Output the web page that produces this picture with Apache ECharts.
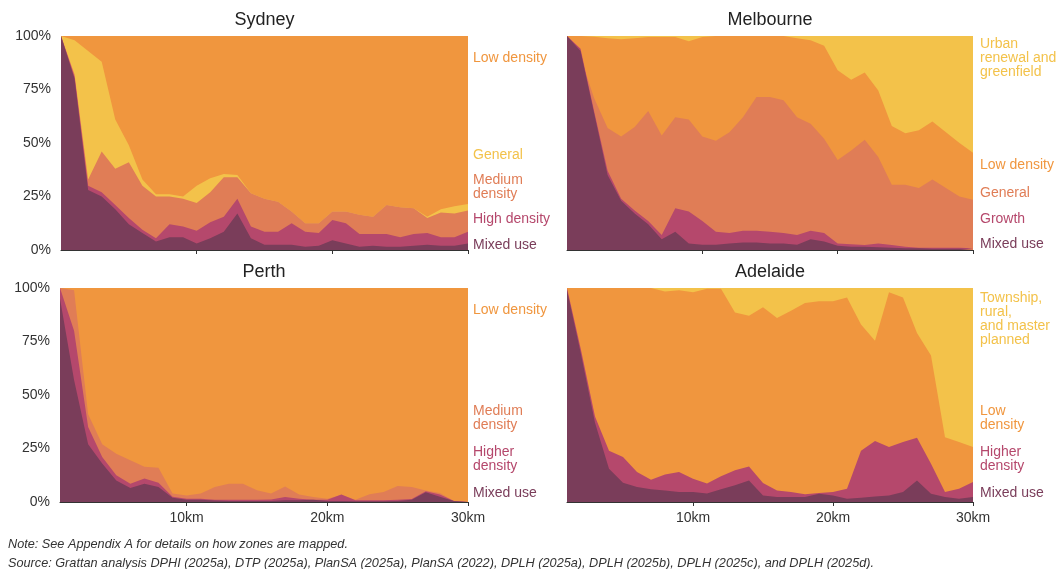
<!DOCTYPE html>
<html>
<head>
<meta charset="utf-8">
<script src="https://cdn.jsdelivr.net/npm/echarts@6/dist/echarts.min.js"></script>
<style>
  html, body { margin: 0; padding: 0; background: #fff; }
  #chart { width: 1058px; height: 569px; }
</style>
</head>
<body>
<div id="chart"></div>
<script>
// distance from CBD (km) - top panels start at 0, bottom panels at 1
const kmTop = [0, 1, 2, 3, 4, 5, 6, 7, 8, 9, 10, 11, 12, 13, 14, 15, 16, 17, 18, 19, 20, 21, 22, 23, 24, 25, 26, 27, 28, 29, 30]
const kmBottom = [1, 2, 3, 4, 5, 6, 7, 8, 9, 10, 11, 12, 13, 14, 15, 16, 17, 18, 19, 20, 21, 22, 23, 24, 25, 26, 27, 28, 29, 30]
const xTicks = [10, 20, 30]

// every array is the cumulative share (%) up to the top of that zone

// Sydney
const sydMixed = [100, 80, 28, 25, 19, 12, 8, 4, 6, 6, 3, 5.5, 8.5, 17, 5.5, 2.5, 2.5, 2.5, 1.5, 2, 4.5, 3, 1.5, 2, 1.5, 1.5, 2, 2.5, 2, 2, 3]
const sydHigh = [100, 81, 30, 27, 21, 15, 9.5, 5.5, 12, 11, 9, 13, 15.5, 24, 11, 8.5, 8.5, 12.5, 8.5, 8, 14, 12.5, 7.5, 7.5, 7.5, 6, 7.5, 8, 6, 6, 8.5]
const sydMedium = [100, 82, 33, 46, 38, 41, 30, 25, 25, 24, 22, 27, 34, 34, 26.5, 24, 22.5, 18, 12.5, 12.5, 18, 18, 16.5, 15.5, 21, 20, 19.5, 15, 17.5, 17, 18.5]
const sydGeneral = [100, 98, 93, 88, 61, 49, 33, 26, 26, 25, 30, 33.5, 35.5, 35, 26.5, 24, 22.5, 18, 12.5, 12.5, 18, 18, 16.5, 15.5, 21, 20, 19.5, 15.5, 19, 20.5, 21.5]
const sydLow = [100, 100, 100, 100, 100, 100, 100, 100, 100, 100, 100, 100, 100, 100, 100, 100, 100, 100, 100, 100, 100, 100, 100, 100, 100, 100, 100, 100, 100, 100, 100]

// Melbourne
const melMixed = [100, 93, 64, 35, 23, 17, 12, 5, 8.5, 3, 2.5, 2.5, 3, 3.5, 3.5, 3, 3, 2.5, 5, 4, 2, 1.5, 1.5, 1.3, 1, 0.8, 0.8, 0.6, 0.6, 0.6, 0.5]
const melGrowth = [100, 94, 65, 37, 24, 18.5, 13.5, 7, 19.5, 18, 13.5, 8.5, 8, 9, 9, 8.5, 8, 7, 9, 8, 3, 2.7, 2.3, 3, 2.3, 1.5, 1, 1, 1, 1, 0.8]
const melGeneral = [100, 90, 71, 57, 53, 57.5, 65, 53.5, 62, 61, 53, 51, 55, 62, 71.5, 71.5, 70, 62, 59, 52, 42, 46.5, 51.5, 43.5, 30.5, 30.5, 29, 33, 29, 25, 23.5]
const melLow = [100, 100, 99.7, 99, 98.5, 99, 99.5, 99.5, 99.5, 97.5, 99.5, 100, 100, 100, 100, 100, 100, 99, 98, 95.5, 84, 79.5, 83, 74.5, 58, 54.5, 56, 60, 55, 50, 45.5]
const melUrban = [100, 100, 100, 100, 100, 100, 100, 100, 100, 100, 100, 100, 100, 100, 100, 100, 100, 100, 100, 100, 100, 100, 100, 100, 100, 100, 100, 100, 100, 100, 100]

// Perth
const perMixed = [95, 57, 27, 18, 10, 6.5, 8.5, 7, 2, 1, 1, 0.7, 0.5, 0.5, 0.5, 0.5, 0.8, 0.8, 1, 0.5, 0.5, 0.3, 0.3, 0.3, 0.5, 1, 4.5, 2.5, 0.5, 0.3]
const perHigher = [100, 80, 35, 21, 12.5, 8.5, 11, 9, 2.5, 1.5, 1.5, 1, 1, 1, 1, 1.2, 2.3, 1.5, 1, 1, 3.5, 0.8, 0.8, 0.8, 1, 1.4, 5, 3.5, 0.5, 0.3]
const perMedium = [100, 99, 41, 27, 22.5, 19.5, 16.5, 16, 4, 3, 4, 7, 8.5, 8.5, 5.5, 4, 7.3, 3.5, 2.3, 1.5, 3.4, 1.1, 3.6, 4.7, 7.5, 7, 5.4, 4.2, 0.5, 0.3]
const perLow = [100, 100, 100, 100, 100, 100, 100, 100, 100, 100, 100, 100, 100, 100, 100, 100, 100, 100, 100, 100, 100, 100, 100, 100, 100, 100, 100, 100, 100, 100]

// Adelaide
const adeMixed = [99, 69, 37, 15.5, 9, 7, 6, 5.4, 4.7, 4.7, 4, 6, 7.8, 10, 3, 2.3, 2.3, 2.3, 3.9, 3, 1.5, 2, 2.6, 3, 4.7, 10, 3.9, 2.3, 1.5, 2.3]
const adeHigher = [100, 71, 40, 24, 21, 14, 10.4, 12.9, 14, 10.9, 8.6, 12, 14.8, 16.6, 8.9, 5.4, 4.7, 3.6, 4.2, 4.7, 6.2, 24, 28.5, 25.7, 28, 30, 17.9, 4.7, 6.2, 9.3]
const adeLow = [100, 100, 100, 100, 100, 100, 100, 98.4, 99, 98, 99.7, 99.7, 88.6, 87, 91, 86, 89.4, 93, 93.8, 93.8, 95.6, 83, 75.4, 98, 95.6, 79, 68.4, 30.3, 28, 25.7]
const adeTownship = [100, 100, 100, 100, 100, 100, 100, 100, 100, 100, 100, 100, 100, 100, 100, 100, 100, 100, 100, 100, 100, 100, 100, 100, 100, 100, 100, 100, 100, 100]

const COLORS = {
  mixed: '#7a3d5a',
  high: '#b5486c',
  medium: '#e07d56',
  low: '#f0963e',
  yellow: '#f3c24a'
}
const FONT = '"Liberation Sans", Arial, sans-serif'

const panels = [
  {
    title: 'Sydney', km: kmTop, min: 0, grid: { left: 61, top: 36, width: 407, height: 214 }, yLabels: true, xLabels: false,
    layers: [
      ['Low density', sydLow, COLORS.low],
      ['General', sydGeneral, COLORS.yellow],
      ['Medium density', sydMedium, COLORS.medium],
      ['High density', sydHigh, COLORS.high],
      ['Mixed use', sydMixed, COLORS.mixed]
    ],
    labels: [
      ['Low density', 58, COLORS.low],
      ['General', 155, COLORS.yellow],
      ['Medium\ndensity', 187, COLORS.medium],
      ['High density', 219, COLORS.high],
      ['Mixed use', 245, COLORS.mixed]
    ]
  },
  {
    title: 'Melbourne', km: kmTop, min: 0, grid: { left: 567, top: 36, width: 406, height: 214 }, yLabels: false, xLabels: false,
    layers: [
      ['Urban renewal and greenfield', melUrban, COLORS.yellow],
      ['Low density', melLow, COLORS.low],
      ['General', melGeneral, COLORS.medium],
      ['Growth', melGrowth, COLORS.high],
      ['Mixed use', melMixed, COLORS.mixed]
    ],
    labels: [
      ['Urban\nrenewal and\ngreenfield', 58, COLORS.yellow],
      ['Low density', 165, COLORS.low],
      ['General', 193, COLORS.medium],
      ['Growth', 219, COLORS.high],
      ['Mixed use', 244, COLORS.mixed]
    ]
  },
  {
    title: 'Perth', km: kmBottom, min: 1, grid: { left: 60, top: 288, width: 408, height: 214 }, yLabels: true, xLabels: true,
    layers: [
      ['Low density', perLow, COLORS.low],
      ['Medium density', perMedium, COLORS.medium],
      ['Higher density', perHigher, COLORS.high],
      ['Mixed use', perMixed, COLORS.mixed]
    ],
    labels: [
      ['Low density', 310, COLORS.low],
      ['Medium\ndensity', 418, COLORS.medium],
      ['Higher\ndensity', 459, COLORS.high],
      ['Mixed use', 493, COLORS.mixed]
    ]
  },
  {
    title: 'Adelaide', km: kmBottom, min: 1, grid: { left: 567, top: 288, width: 406, height: 214 }, yLabels: false, xLabels: true,
    layers: [
      ['Township, rural, and master planned', adeTownship, COLORS.yellow],
      ['Low density', adeLow, COLORS.low],
      ['Higher density', adeHigher, COLORS.high],
      ['Mixed use', adeMixed, COLORS.mixed]
    ],
    labels: [
      ['Township,\nrural,\nand master\nplanned', 319, COLORS.yellow],
      ['Low\ndensity', 418, COLORS.low],
      ['Higher\ndensity', 459, COLORS.high],
      ['Mixed use', 493, COLORS.mixed]
    ]
  }
]

const grids = []
const xAxes = []
const yAxes = []
const series = []
const graphics = []

panels.forEach((p, i) => {
  grids.push(Object.assign({ containLabel: false }, p.grid))
  xAxes.push({
    type: 'value',
    gridIndex: i,
    min: p.min,
    max: 30,
    axisLine: { show: true, onZero: false, lineStyle: { color: '#333', width: 1 } },
    axisTick: { show: true, customValues: xTicks, length: 4, lineStyle: { color: '#333' } },
    axisLabel: {
      show: p.xLabels,
      customValues: xTicks,
      formatter: '{value}km',
      fontSize: 14,
      fontFamily: FONT,
      color: '#333',
      margin: 9
    },
    splitLine: { show: false },
    z: 10
  })
  yAxes.push({
    type: 'value',
    gridIndex: i,
    min: 0,
    max: 100,
    interval: 25,
    axisLine: { show: false },
    axisTick: { show: false },
    splitLine: { show: false },
    axisLabel: {
      show: p.yLabels,
      formatter: '{value}%',
      fontSize: 14,
      fontFamily: FONT,
      color: '#333',
      margin: 10
    }
  })
  p.layers.forEach(([name, values, color]) => {
    series.push({
      type: 'line',
      name: name,
      xAxisIndex: i,
      yAxisIndex: i,
      data: p.km.map((x, j) => [x, values[j]]),
      showSymbol: false,
      symbol: 'none',
      smooth: false,
      silent: true,
      lineStyle: { width: 0, color: color },
      itemStyle: { color: color },
      areaStyle: { color: color, opacity: 1 }
    })
  })

  const right = p.grid.left + p.grid.width
  graphics.push({
    type: 'text',
    x: p.grid.left + p.grid.width / 2,
    y: p.grid.top - 16,
    style: { text: p.title, fill: '#222', fontSize: 18, fontFamily: FONT, align: 'center', verticalAlign: 'middle' }
  })
  p.labels.forEach(([text, y, color]) => {
    graphics.push({
      type: 'text',
      x: right + (i % 2 === 0 ? 5 : 7),
      y: y,
      style: { text: text, fill: color, fontSize: 14, fontFamily: FONT, align: 'left', verticalAlign: 'middle', lineHeight: 14 }
    })
  })
})

graphics.push({
  type: 'text',
  x: 8,
  y: 544,
  style: { text: 'Note: See Appendix A for details on how zones are mapped.', fill: '#333', fontSize: 12.7, fontStyle: 'italic', fontFamily: FONT, align: 'left', verticalAlign: 'middle' }
})
graphics.push({
  type: 'text',
  x: 8,
  y: 563,
  style: { text: 'Source: Grattan analysis DPHI (2025a), DTP (2025a), PlanSA (2025a), PlanSA (2022), DPLH (2025a), DPLH (2025b), DPLH (2025c), and DPLH (2025d).', fill: '#333', fontSize: 12.7, fontStyle: 'italic', fontFamily: FONT, align: 'left', verticalAlign: 'middle' }
})

const chart = echarts.init(document.getElementById('chart'), null, { renderer: 'canvas' })
chart.setOption({
  animation: false,
  backgroundColor: '#fff',
  grid: grids,
  xAxis: xAxes,
  yAxis: yAxes,
  series: series,
  graphic: graphics
})
</script>
</body>
</html>
